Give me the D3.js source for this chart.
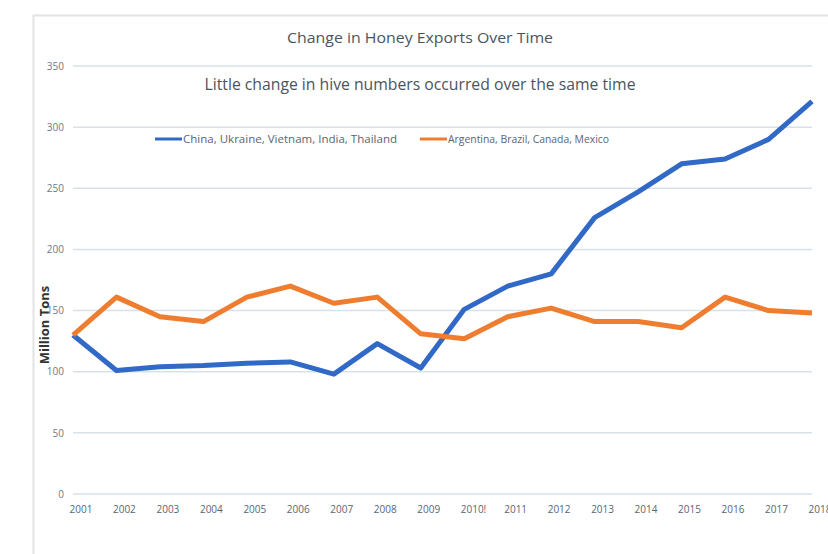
<!DOCTYPE html>
<html><head><meta charset="utf-8">
<script src="https://cdn.jsdelivr.net/npm/d3@7"></script>
<style>body{margin:0;background:#fff}svg{display:block}text{font-family:"Open Sans",Lato,sans-serif}</style>
</head><body><svg id="c" width="828" height="554"></svg>
<script>
const years = ["2001","2002","2003","2004","2005","2006","2007","2008","2009","2010","2011","2012","2013","2014","2015","2016","2017","2018"];
const yearLabels = ["2001","2002","2003","2004","2005","2006","2007","2008","2009","2010!","2011","2012","2013","2014","2015","2016","2017","2018"];
const asiaSeries = [130,101,104,105,107,108,98,123,103,151,170,180,226,247,270,274,290,321];
const americasSeries = [130,161,145,141,161,170,156,161,131,127,145,152,141,141,136,161,150,148];
const seriesNames = ["China, Ukraine, Vietnam, India, Thailand","Argentina, Brazil, Canada, Mexico"];
const yTicks = [0,50,100,150,200,250,300,350];
const title = "Change in Honey Exports Over Time";
const subtitle = "Little change in hive numbers occurred over the same time";
const yTitle = "Million Tons";

const svg = d3.select("#c");
const colors = ["#3169c6","#ee7d30"];
const x = d3.scalePoint().domain(years).range([73, 812]);
const y = d3.scaleLinear().domain([0,350]).range([494, 66]);

// frame
svg.append("path").attr("d","M33.5,554 V15.5 H828").attr("fill","none").attr("stroke","#e3e3e3").attr("stroke-width",2);

// gridlines
svg.append("g").selectAll("line").data(yTicks).join("line")
  .attr("x1",73).attr("x2",812).attr("y1",d=>y(d)).attr("y2",d=>y(d))
  .attr("stroke","#d6e2ea").attr("stroke-width",1.5);

// y axis labels
const yAxis = d3.axisLeft(y).tickValues(yTicks).tickSize(0).tickPadding(0);
const ya = svg.append("g").attr("transform","translate(64,0)").call(yAxis);
ya.select(".domain").remove();
ya.selectAll("text").attr("font-size",10).attr("fill","#6c7a86").attr("font-family","'Open Sans',sans-serif");

// x axis labels
const xAxis = d3.axisBottom(x).tickSize(0).tickFormat((d,i)=>yearLabels[i]);
const xa = svg.append("g").attr("transform","translate(0,506)").call(xAxis);
xa.select(".domain").remove();
xa.selectAll("text").attr("text-anchor","start").attr("dx",-4).attr("dy","0.35em")
  .attr("font-size",10).attr("fill","#5a6570").attr("font-family","'Open Sans',sans-serif");

// y title
svg.append("text").attr("transform","translate(49,325) rotate(-90)").attr("text-anchor","middle")
  .attr("font-size",13).attr("font-weight","bold").attr("fill","#333").text(yTitle);

// titles
svg.append("text").attr("x",420).attr("y",43).attr("text-anchor","middle").attr("font-size",15).attr("fill","#4a5560")
  .attr("textLength",266).attr("lengthAdjust","spacingAndGlyphs").text(title);
svg.append("text").attr("x",420).attr("y",90).attr("text-anchor","middle").attr("font-size",17).attr("fill","#4a5560")
  .attr("textLength",431).attr("lengthAdjust","spacingAndGlyphs").text(subtitle);

// lines
const line = d3.line().x((d,i)=>x(years[i])).y(d=>y(d));
[asiaSeries, americasSeries].forEach((s,k)=>{
  svg.append("path").datum(s).attr("d",line).attr("fill","none").attr("stroke",colors[k])
    .attr("stroke-width",5).attr("stroke-linejoin","round");
});
// blue drawn on top
svg.append("path").datum(asiaSeries).attr("d",line).attr("fill","none").attr("stroke",colors[0])
  .attr("stroke-width",5).attr("stroke-linejoin","round").attr("opacity",0);

// legend
const leg = [{x:155,len:214},{x:420,len:161}];
leg.forEach((l,k)=>{
  svg.append("line").attr("x1",l.x).attr("x2",l.x+27).attr("y1",139).attr("y2",139).attr("stroke",colors[k]).attr("stroke-width",3);
  svg.append("text").attr("x",l.x+28).attr("y",143).attr("font-size",10).attr("fill","#5a6570")
    .attr("textLength",l.len).attr("lengthAdjust","spacingAndGlyphs").text(seriesNames[k]);
});
</script></body></html>
